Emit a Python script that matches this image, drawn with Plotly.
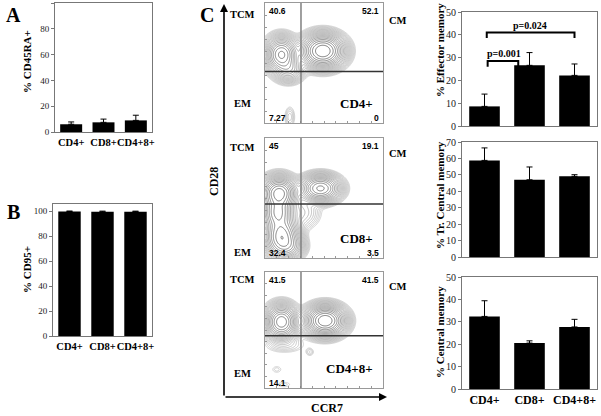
import numpy as np
import plotly.graph_objects as go

W, H = 601, 416

# ---------------- data ----------------
groups = ["CD4+", "CD8+", "CD4+8+"]
cd45ra_mean = [6.0, 7.5, 9.0]
cd45ra_err = [1.8, 2.5, 4.0]
cd95_mean = [99.6, 99.4, 99.5]
cd95_err = [0.4, 0.5, 0.4]
effector_mean = [8.6, 26.6, 22.2]
effector_err = [5.4, 5.6, 5.0]
trcm_mean = [58.8, 47.0, 49.1]
trcm_err = [7.6, 7.8, 1.0]
cm_mean = [32.4, 20.5, 27.7]
cm_err = [7.0, 1.0, 3.4]

# contour populations (flow cytometry):
# centre x, centre y (fraction of plot), spread x, spread y, relative density
cd4_cx = [0.14, 0.20, 0.49, 0.21]
cd4_cy = [0.57, 0.45, 0.60, 0.05]
cd4_sx = [0.060, 0.06, 0.080, 0.025]
cd4_sy = [0.065, 0.05, 0.062, 0.05]
cd4_amp = [0.6, 0.15, 1.0, 0.01]

cd8_cx = [0.12, 0.11, 0.14, 0.47, 0.30, 0.20]
cd8_cy = [0.54, 0.38, 0.18, 0.58, 0.38, 0.10]
cd8_sx = [0.065, 0.06, 0.065, 0.075, 0.08, 0.06]
cd8_sy = [0.06, 0.07, 0.08, 0.05, 0.07, 0.05]
cd8_amp = [0.9, 0.6, 0.7, 0.6, 0.03, 0.2]

dp_cx = [0.14, 0.51, 0.38, 0.17, 0.10, 0.16]
dp_cy = [0.57, 0.58, 0.31, 0.37, 0.16, 0.03]
dp_sx = [0.06, 0.075, 0.022, 0.10, 0.035, 0.05]
dp_sy = [0.065, 0.058, 0.022, 0.04, 0.025, 0.02]
dp_amp = [0.7, 1.0, 0.006, 0.008, 0.004, 0.004]

cd4_quads = ["40.6", "52.1", "7.27", "0"]
cd8_quads = ["45", "19.1", "32.4", "3.5"]
dp_quads = ["41.5", "41.5", "14.1", ""]
gate_x = 0.305
gate_y = [0.43, 0.45, 0.45]

# ---------------- helpers ----------------
def px(x):
    return x / W

def py(y):
    return 1 - y / H

SERIF = "Liberation Serif"
SANS = "Liberation Sans"

fig = go.Figure()

def bars(mean, err, xa, ya):
    fig.add_trace(go.Bar(
        x=groups, y=mean, xaxis=xa, yaxis=ya,
        marker=dict(color="black", line=dict(width=0)),
        width=0.68,
        error_y=dict(type="data", symmetric=False, array=err,
                     arrayminus=[0] * len(err), color="black",
                     thickness=1, width=3),
        showlegend=False, hoverinfo="skip"))

bars(cd45ra_mean, cd45ra_err, "x", "y")
bars(cd95_mean, cd95_err, "x2", "y2")
bars(effector_mean, effector_err, "x6", "y6")
bars(trcm_mean, trcm_err, "x7", "y7")
bars(cm_mean, cm_err, "x8", "y8")

grid = np.linspace(0, 1, 180)
GX, GY = np.meshgrid(grid, grid)

def density(cx, cy, sx, sy, amp):
    d = np.zeros_like(GX)
    for a, b, c, e, f in zip(cx, cy, sx, sy, amp):
        d += f * np.exp(-((GX - a) ** 2 / (2 * c ** 2) + (GY - b) ** 2 / (2 * e ** 2)))
    return np.log10(d + 1e-9)

for (cx, cy, sx, sy, amp), xa, ya in [
        ((cd4_cx, cd4_cy, cd4_sx, cd4_sy, cd4_amp), "x3", "y3"),
        ((cd8_cx, cd8_cy, cd8_sx, cd8_sy, cd8_amp), "x4", "y4"),
        ((dp_cx, dp_cy, dp_sx, dp_sy, dp_amp), "x5", "y5")]:
    fig.add_trace(go.Contour(
        x=grid, y=grid, z=density(cx, cy, sx, sy, amp),
        xaxis=xa, yaxis=ya,
        contours=dict(coloring="lines", start=-2.6, end=-0.03, size=0.13),
        colorscale=[[0, "#c8c8c8"], [0.6, "#9a9a9a"], [1, "#5a5a5a"]],
        line=dict(width=0.8, smoothing=1.0),
        showscale=False, hoverinfo="skip"))

# ---------------- layout ----------------
layout = dict(
    width=W, height=H, margin=dict(l=0, r=0, t=0, b=0, autoexpand=False),
    paper_bgcolor="white", plot_bgcolor="white",
    font=dict(family=SERIF, color="black", size=10),
    bargap=0.3,
)

def bar_axes(n, x0, x1, y0, y1, yrange, dtick, showx, tickfs=9, catfs=10.5):
    sx = "" if n == 1 else str(n)
    layout["xaxis" + sx] = dict(
        domain=[px(x0), px(x1)], anchor="y" + sx, showline=True, mirror=True,
        linecolor="#777", linewidth=1, ticks="", showticklabels=showx,
        tickangle=0, ticklabelstandoff=0, automargin=False,
        tickfont=dict(family=SERIF, size=catfs, color="black", weight="bold"),
        showgrid=False, zeroline=False, fixedrange=True)
    layout["yaxis" + sx] = dict(
        domain=[py(y1), py(y0)], anchor="x" + sx, range=yrange, dtick=dtick,
        showline=True, mirror=True, linecolor="#777", linewidth=1,
        ticks="outside", ticklen=3, tickcolor="#777", automargin=False,
        tickfont=dict(family=SERIF, size=tickfs, color="#222"),
        showgrid=False, zeroline=False, fixedrange=True)

bar_axes(1, 55, 152, 3, 132, [0, 100], 20, True)
bar_axes(2, 53, 152, 204, 336, [0, 105.6], 20, True)
bar_axes(6, 462, 597, 12, 126, [0, 50], 10, False, tickfs=10)
bar_axes(7, 462, 597, 142, 257, [0, 70], 10, False, tickfs=10)
bar_axes(8, 462, 597, 277, 389, [0, 50], 10, True, tickfs=10, catfs=12)

contour_boxes = [(3, 123), (138, 258), (272, 388)]
for i, (y0, y1) in zip([3, 4, 5], contour_boxes):
    layout["xaxis%d" % i] = dict(
        domain=[px(265), px(383)], anchor="y%d" % i, range=[0, 1],
        showline=True, mirror=True, linecolor="#999", linewidth=1,
        ticks="inside", ticklen=2, tickcolor="#999", dtick=0.1, automargin=False,
        showticklabels=False, showgrid=False, zeroline=False, fixedrange=True)
    layout["yaxis%d" % i] = dict(
        domain=[py(y1), py(y0)], anchor="x%d" % i, range=[0, 1],
        showline=True, mirror=True, linecolor="#999", linewidth=1,
        ticks="inside", ticklen=2, tickcolor="#999", dtick=0.1, automargin=False,
        showticklabels=False, showgrid=False, zeroline=False, fixedrange=True)

fig.update_layout(**layout)

# gate lines in contour panels
for k, i in enumerate([3, 4, 5]):
    fig.add_shape(type="line", xref="x%d" % i, yref="y%d" % i,
                  x0=gate_x, x1=gate_x, y0=0, y1=1,
                  line=dict(color="#808080", width=1.5))
    fig.add_shape(type="line", xref="x%d" % i, yref="y%d" % i,
                  x0=0, x1=1, y0=gate_y[k], y1=gate_y[k],
                  line=dict(color="#333", width=1.5))

# p-value brackets
def bracket(xa, xb, yb, yl):
    fig.add_shape(type="path", xref="x6", yref="y6",
                  path="M %f %f L %f %f L %f %f L %f %f" % (xa, yl, xa, yb, xb, yb, xb, yl),
                  line=dict(color="black", width=2))

bracket(0.07, 0.75, 28.5, 26.0)
bracket(0.05, 2.0, 41.0, 38.6)

ann = []

def text(x, y, s, size=10, family=SERIF, bold=True, angle=0, xanchor="center", color="black"):
    ann.append(dict(x=px(x), y=py(y), xref="paper", yref="paper", text=s,
                    showarrow=False, textangle=angle, xanchor=xanchor,
                    yanchor="middle",
                    font=dict(family=family, size=size, color=color,
                              weight="bold" if bold else "normal")))

text(504, 54, "p=0.001", 10)
text(530, 25, "p=0.024", 10)

# panel letters
text(13, 15, "A", 20)
text(13, 212, "B", 20)
text(207, 15, "C", 20)

# axis titles
text(27, 62, "% CD45RA+", 11, angle=-90)
text(27, 270, "% CD95+", 11, angle=-90)
text(440, 50, "% Effector memory", 11, angle=-90)
text(440, 195, "% Tr. Central memory", 11, angle=-90)
text(440, 332, "% Central memory", 11, angle=-90)
text(214, 182, "CD28", 12, angle=-90)
text(327, 408, "CCR7", 12)

# contour panel labels
for (y0, y1), q, name, (tcm_y, em_y, cm_y) in zip(
        contour_boxes, [cd4_quads, cd8_quads, dp_quads], ["CD4+", "CD8+", "CD4+8+"],
        [(15, 103, 20), (147, 253, 153), (279, 373, 286)]):
    text(267, y0 + 8, q[0], 8.5, family=SANS, xanchor="left")
    text(381, y0 + 8, q[1], 8.5, family=SANS, xanchor="right")
    text(267, y1 - 5, q[2], 8.5, family=SANS, xanchor="left")
    if q[3]:
        text(381, y1 - 5, q[3], 8.5, family=SANS, xanchor="right")
    text(375, y1 - 20, name, 13, xanchor="right")
    text(243, tcm_y, "TCM", 10.5)
    text(243, em_y, "EM", 10.5)
    text(398, cm_y, "CM", 10.5)

fig.update_layout(annotations=ann)

# C axis arrows
fig.add_annotation(x=px(224), y=py(4), xref="paper", yref="paper",
                   ax=0, ay=393, showarrow=True, arrowhead=2, arrowsize=1,
                   arrowwidth=1.6, arrowcolor="black", text="")
fig.add_annotation(x=px(387), y=py(397), xref="paper", yref="paper",
                   ax=-163, ay=0, showarrow=True, arrowhead=2, arrowsize=1,
                   arrowwidth=1.6, arrowcolor="black", text="")

fig.write_html("out.html",
               config={"displayModeBar": False, "staticPlot": True},
               post_script="document.body.style.margin='0px';"
                           "document.body.style.overflow='hidden';")
